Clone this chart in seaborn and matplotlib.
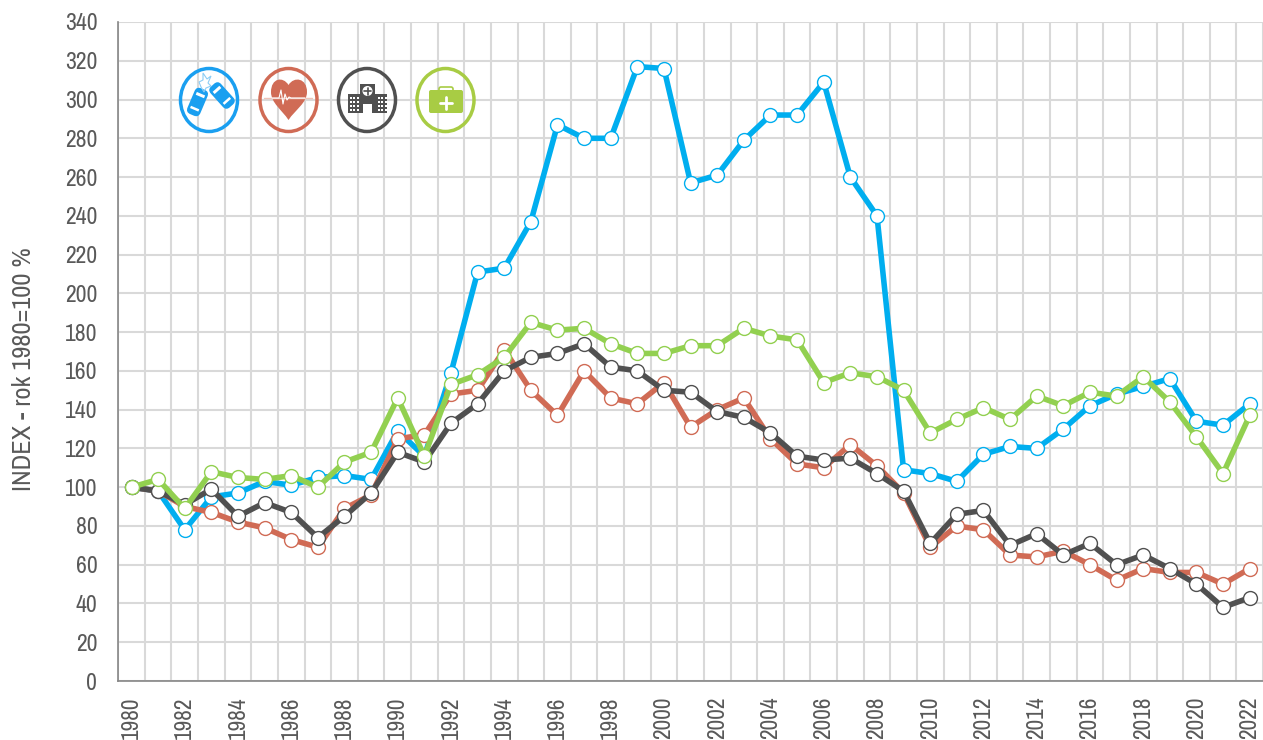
import numpy as np
import pandas as pd
import seaborn as sns
import matplotlib.pyplot as plt
from matplotlib.patches import Ellipse, Rectangle, Circle, FancyBboxPatch, PathPatch, Polygon
from matplotlib.path import Path
from matplotlib.transforms import Affine2D

years = list(range(1980, 2023))
nehody = [100, 98, 78, 95, 97, 103, 101, 105, 106, 104, 129, 116, 159, 211, 213, 237, 287, 280, 280, 317, 316, 257,
          261, 279, 292, 292, 309, 260, 240, 109, 107, 103, 117, 121, 120, 130, 142, 148, 152, 156, 134, 132, 143]
srdce = [100, 98, 90, 87, 82, 79, 73, 69, 89, 96, 125, 127, 148, 150, 171, 150, 137, 160, 146, 143, 154, 131,
         140, 146, 125, 112, 110, 122, 111, 97, 69, 80, 78, 65, 64, 67, 60, 52, 58, 56, 56, 50, 58]
nemocnice = [100, 98, 91, 99, 85, 92, 87, 74, 85, 97, 118, 113, 133, 143, 160, 167, 169, 174, 162, 160, 150, 149,
             139, 136, 128, 116, 114, 115, 107, 98, 71, 86, 88, 70, 76, 65, 71, 60, 65, 58, 50, 38, 43]
lekarna = [100, 104, 89, 108, 105, 104, 106, 100, 113, 118, 146, 116, 153, 158, 167, 185, 181, 182, 174, 169, 169,
           173, 173, 182, 178, 176, 154, 159, 157, 150, 128, 135, 141, 135, 147, 142, 149, 147, 157, 144, 126, 107, 137]
colors = {'nehody': '#00aeef', 'srdce': '#d06b55', 'nemocnice': '#505050', 'lekarna': '#92d050'}

df = pd.DataFrame({'rok': years, 'nehody': nehody, 'srdce': srdce, 'nemocnice': nemocnice, 'lekarna': lekarna})
df = df.melt(id_vars='rok', var_name='serie', value_name='index')

sns.set_style('white')
plt.rcParams['font.family'] = ['Archivo Narrow', 'Roboto Condensed', 'Liberation Sans']

fig = plt.figure(figsize=(12.63, 7.40), dpi=100)
ax = fig.add_axes([118.2 / 1263, 59 / 740, (1263 - 118.2) / 1263, 659 / 740])

sns.lineplot(data=df, x='rok', y='index', hue='serie', hue_order=list(colors), palette=colors, legend=False,
             ax=ax, linewidth=4.0, marker='o', markersize=10, markerfacecolor='white',
             markeredgecolor='auto', markeredgewidth=1.0, clip_on=False, zorder=3)

ax.set_xlim(1979.5, 2022.5)
ax.set_ylim(0, 340)
ax.set_yticks(range(0, 341, 20))
ax.set_xticks(range(1980, 2023, 2))
ax.set_xticks(np.arange(1979.5, 2023, 1), minor=True)
ax.grid(False)
ax.grid(True, axis='y', which='major', color='#d9d9d9', linewidth=1.5)
ax.grid(True, axis='x', which='minor', color='#d9d9d9', linewidth=1.5)
ax.set_axisbelow(True)
ax.tick_params(axis='both', which='both', length=0)
ax.tick_params(axis='y', labelsize=17, labelcolor='#595959', pad=15)
ax.tick_params(axis='x', labelsize=16.8, labelcolor='#595959', pad=11, labelrotation=90)
ax.set_xlabel('')
ax.set_ylabel('INDEX - rok 1980=100 %', fontsize=19, color='#595959')
ax.yaxis.set_label_coords(-83 / 1145, 0.4727)
sns.despine(ax=ax, top=True, right=True)
for side in ['left', 'bottom']:
    ax.spines[side].set_color('#868686')
    ax.spines[side].set_linewidth(1.2)

# ikony - osa v pixelech
ov = fig.add_axes([0, 0, 1, 1], zorder=5)
ov.set_xlim(0, 1263)
ov.set_ylim(740, 0)
ov.axis('off')
ov.patch.set_alpha(0)


def ring(x, col):
    ov.add_patch(Ellipse((x, 100), 57, 63, fill=False, ec=col, lw=2.5))


def car(cx, cy, deg, col):
    tr = Affine2D().rotate_deg_around(cx, cy, deg) + ov.transData
    ov.add_patch(FancyBboxPatch((cx - 7, cy - 14), 14, 28, boxstyle='round,pad=0,rounding_size=5', fc=col, ec='none', transform=tr))
    ov.add_patch(Rectangle((cx - 4.5, cy - 9), 9, 3, fc='white', ec='none', transform=tr))
    ov.add_patch(Rectangle((cx - 4.5, cy + 6), 9, 2.5, fc='white', ec='none', transform=tr))


ring(209, '#1a9ff0')
car(197.5, 102, 23, '#1a9ff0')
car(222, 95.5, -42, '#1a9ff0')
ov.add_patch(Polygon([(199, 82), (203, 80), (203, 73), (207, 79), (211, 76), (208, 83), (211, 86), (206, 88), (204, 92), (201, 87)],
                     fill=False, ec='#8ccdf5', lw=0.8))

ring(288.5, '#d06b55')
heart = Path([(288.5, 85), (283, 76), (271, 78), (271, 92), (271, 103), (282, 110), (288.5, 120),
              (295, 110), (307, 103), (307, 92), (307, 78), (294, 76), (288.5, 85)],
             [Path.MOVETO] + [Path.CURVE4] * 12)
ov.add_patch(PathPatch(heart, fc='#d06b55', ec='none'))
ov.plot([264, 312], [98, 98], color='#eec4ba', lw=1)
ov.plot([272, 279, 281, 283, 285, 287, 289, 291, 305], [98, 98, 90, 104, 94, 100, 97, 98, 98], color='white', lw=0.8)

ring(367, '#505050')
ov.add_patch(Rectangle((360, 84), 15, 29, fc='#505050', ec='none'))
ov.add_patch(Rectangle((348, 94), 39, 19, fc='#505050', ec='none'))
ov.add_patch(Circle((367.5, 91), 5, fc='white', ec='none'))
ov.plot([367.5, 367.5], [87.5, 94.5], color='#505050', lw=1.2)
ov.plot([364, 371], [91, 91], color='#505050', lw=1.2)
ov.add_patch(Rectangle((363, 104), 9, 9, fc='white', ec='none'))
for wx in [350, 353.5, 357, 378, 381.5, 385]:
    for wy in [96.5, 100.5, 104.5, 108.5]:
        ov.add_patch(Rectangle((wx - 0.5, wy), 2, 2.4, fc='white', ec='none'))

ring(445.5, '#a8cc44')
ov.add_patch(FancyBboxPatch((429, 90), 34, 23, boxstyle='round,pad=0,rounding_size=2', fc='#a8cc44', ec='none'))
ov.add_patch(FancyBboxPatch((439, 87), 14, 6, boxstyle='round,pad=0,rounding_size=2', fill=False, ec='#a8cc44', lw=1.2))
ov.plot([446, 446], [97, 109], color='white', lw=2)
ov.plot([440, 452], [103, 103], color='white', lw=2)

fig.savefig('out.png', dpi=100)
